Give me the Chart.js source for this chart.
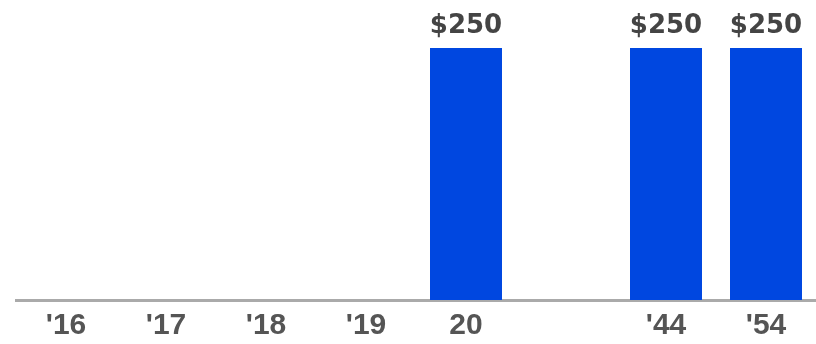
<!DOCTYPE html>
<html>
<head>
<meta charset="utf-8">
<script src="https://cdn.jsdelivr.net/npm/chart.js@4/dist/chart.umd.min.js"></script>
<style>
  html, body { margin: 0; padding: 0; background: #fff; }
  #wrap { width: 816px; height: 344px; position: relative; }
</style>
</head>
<body>
<div id="wrap"><canvas id="chart"></canvas></div>
<script>
// Dados do gráfico
const categories = ["'16", "'17", "'18", "'19", "20", "", "'44", "'54"];
const values = [null, null, null, null, 250, null, 250, 250];
const valuePrefix = "$";

// Rótulos de valor acima das barras
const valueLabels = {
  id: "valueLabels",
  afterDatasetsDraw(chart) {
    const ctx = chart.ctx;
    const meta = chart.getDatasetMeta(0);
    ctx.save();
    ctx.font = "bold 26px 'DejaVu Sans'";
    ctx.fillStyle = "#444444";
    ctx.textAlign = "center";
    ctx.textBaseline = "bottom";
    meta.data.forEach((bar, i) => {
      const v = values[i];
      if (v == null || v <= 0) return;
      ctx.fillText(valuePrefix + v, bar.x, bar.y - 9);
    });
    ctx.restore();
  },
};

const ctx = document.getElementById("chart").getContext("2d");
const chart = new Chart(ctx, {
  type: "bar",
  data: {
    labels: categories,
    datasets: [
      {
        data: values,
        backgroundColor: "#0047e0",
        borderWidth: 0,
        barPercentage: 0.72,
        categoryPercentage: 1,
      },
    ],
  },
  options: {
    responsive: true,
    maintainAspectRatio: false,
    animation: false,
    layout: { padding: { top: 48, left: 16, right: 0, bottom: 0 } },
    plugins: { legend: { display: false }, tooltip: { enabled: false } },
    scales: {
      y: { display: false, min: 0, max: 250 },
      x: {
        grid: { display: false },
        border: { color: "#aaaaaa", width: 3 },
        ticks: {
          color: "#555555",
          font: { family: "'Liberation Sans'", size: 30, weight: "bold", lineHeight: 0.8 },
          padding: 6,
          maxRotation: 0,
          autoSkip: false,
        },
      },
    },
  },
  plugins: [valueLabels],
});
</script>
</body>
</html>
